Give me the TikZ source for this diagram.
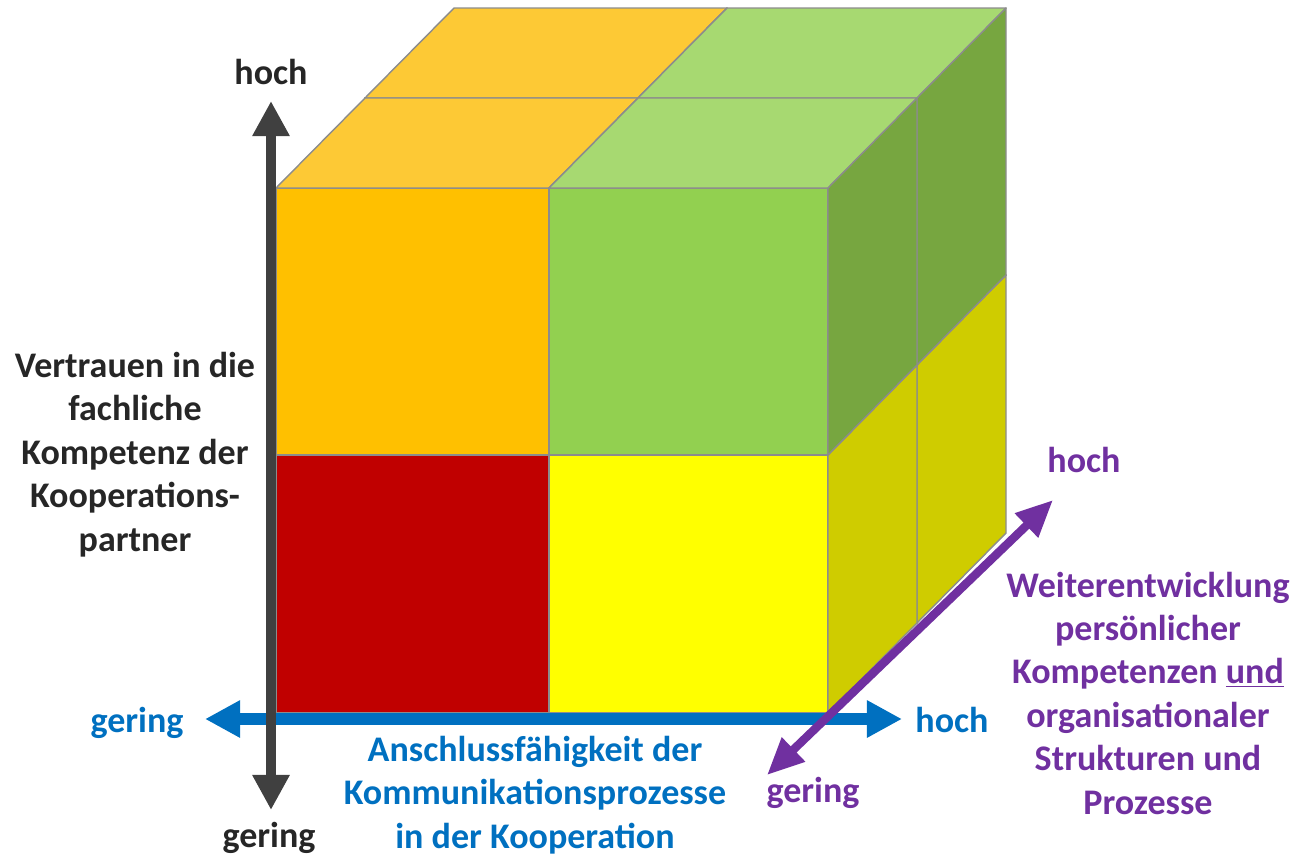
\documentclass[tikz,border=0pt]{standalone}
\usepackage{fontspec}
\setmainfont{Carlito}
\usetikzlibrary{arrows.meta}

\definecolor{cubegray}{HTML}{8C8C8C}
\definecolor{ofront}{HTML}{FFC000}
\definecolor{otop}{HTML}{FDC935}
\definecolor{gfront}{HTML}{92D050}
\definecolor{gtop}{HTML}{A7D971}
\definecolor{gside}{HTML}{77A640}
\definecolor{yfront}{HTML}{FFFF00}
\definecolor{yside}{HTML}{CFCC00}
\definecolor{rfront}{HTML}{C00000}
\definecolor{rdark}{HTML}{900000}
\definecolor{axisgray}{HTML}{404040}
\definecolor{txtdark}{HTML}{262626}
\definecolor{axisblue}{HTML}{0070C0}
\definecolor{axispurple}{HTML}{7030A0}

\tikzset{
  cubeline/.style={draw=cubegray, line width=0.8pt, line join=round},
  lbl/.style={font=\bfseries\fontsize{20.5}{24.7}\selectfont, inner sep=0pt, align=center}
}

% one small cube: left, bottom, right, top, front/top/side colour
\newcommand{\cubelet}[7]{%
  \draw[cubeline, fill=#5] (#1,#2) rectangle (#3,#4);
  \draw[cubeline, fill=#6] (#1,#4) -- ++(89,-90) -- ++(#3-#1,0) -- (#3,#4) -- cycle;
  \draw[cubeline, fill=#7] (#3,#2) -- (#3,#4) -- ++(89,-90) -- ++(0,#2-#4) -- cycle;
}

\begin{document}
\begin{tikzpicture}[x=0.02cm, y=-0.02cm]
\useasboundingbox (0,0) rectangle (1297,856);

% back layer first, then front layer
\foreach \dx/\dy in {89/-90, 0/0} {
  \begin{scope}[shift={(\dx,\dy)}]
    \cubelet{276}{713}{549}{455}{rfront}{rdark}{rdark}
    \cubelet{549}{713}{828}{455}{yfront}{yside}{yside}
    \cubelet{276}{455}{549}{188}{ofront}{otop}{otop}
    \cubelet{549}{455}{828}{188}{gfront}{gtop}{gside}
  \end{scope}
}

% axes
\coordinate (xlo) at (205,719);
\coordinate (xhi) at (902,719);
\coordinate (ylo) at (271,810);
\coordinate (yhi) at (271,101);
\coordinate (zlo) at (767,775);
\coordinate (zhi) at (1053,500);

\draw[axisblue, line width=6.8pt, {Triangle[length=20pt, width=20pt]}-{Triangle[length=20pt, width=20pt]}] (xlo) -- (xhi);
\draw[axisgray, line width=6.2pt, {Triangle[length=20pt, width=20pt]}-{Triangle[length=20pt, width=20pt]}] (ylo) -- (yhi);
\draw[axispurple, line width=4.8pt, {Triangle[length=21pt, width=18pt]}-{Triangle[length=21pt, width=18pt]}] (zlo) -- (zhi);

% labels
\node[lbl, text=txtdark, anchor=base] (yhitxt) at (271,84) {hoch};
\node[lbl, text=txtdark, anchor=base] (ylotxt) at (269,847) {gering};
\node[lbl, text=txtdark, anchor=base] (ytitle) at (135,551) {Vertrauen in die\\fachliche\\Kompetenz der\\Kooperations-\\partner};

\node[lbl, text=axisblue, anchor=base] (xlotxt) at (137,732) {gering};
\node[lbl, text=axisblue, anchor=base] (xhitxt) at (952,732) {hoch};
\node[lbl, text=axisblue, anchor=base] (xtitle) at (535,848) {Anschlussfähigkeit der\\Kommunikationsprozesse\\in der Kooperation};

\node[lbl, text=axispurple, anchor=base] (zhitxt) at (1084,472) {hoch};
\node[lbl, text=axispurple, anchor=base] (zlotxt) at (813,802) {gering};
\node[lbl, text=axispurple, anchor=base] (ztitle) at (1148,814) {Weiterentwicklung\\persönlicher\\Kompetenzen \underline{und}\\organisationaler\\Strukturen und\\Prozesse};
\end{tikzpicture}
\end{document}
